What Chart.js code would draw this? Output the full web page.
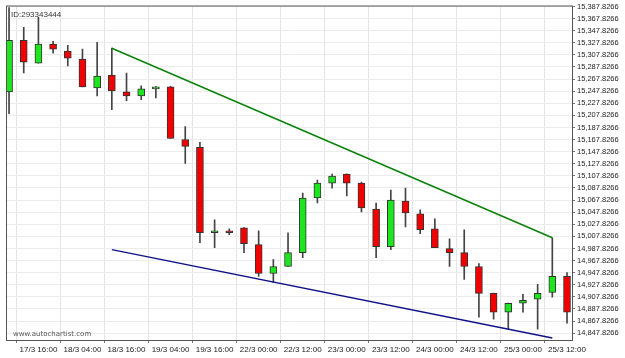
<!DOCTYPE html>
<html>
<head>
<meta charset="utf-8">
<script src="https://cdn.jsdelivr.net/npm/chart.js@4"></script>
<style>
  html, body { margin: 0; padding: 0; background: #fff; }
  #wrap { width: 625px; height: 358px; }
</style>
</head>
<body>
<div id="wrap"><canvas id="candleChart" width="625" height="358"></canvas></div>
<script>
// 4h candles, 17/3 08:00 .. 25/3 12:00
var times = ['17/3 08:00', '17/3 12:00', '17/3 16:00', '17/3 20:00', '18/3 00:00', '18/3 04:00', '18/3 08:00', '18/3 12:00',
    '18/3 16:00', '18/3 20:00', '19/3 00:00', '19/3 04:00', '19/3 08:00', '19/3 12:00', '19/3 16:00', '19/3 20:00',
    '21/3 20:00', '22/3 00:00', '22/3 04:00', '22/3 08:00', '22/3 12:00', '22/3 16:00', '22/3 20:00', '23/3 00:00',
    '23/3 04:00', '23/3 08:00', '23/3 12:00', '23/3 16:00', '23/3 20:00', '24/3 00:00', '24/3 04:00', '24/3 08:00',
    '24/3 12:00', '24/3 16:00', '24/3 20:00', '25/3 00:00', '25/3 04:00', '25/3 08:00', '25/3 12:00'];

var opens = [15246.7, 15332.0, 15294.3, 15325.5, 15314.0, 15300.9, 15253.3, 15274.6, 15246.7, 15240.2, 15251.7, 15254.9, 15168.0,
    15154.9, 15013.8, 15017.0, 15022.0, 14994.1, 14946.5, 14958.0, 14980.9, 15071.2, 15095.8, 15110.6, 15095.8, 15053.1,
    14990.8, 15066.3, 15044.9, 15020.3, 14987.5, 14980.9, 14958.0, 14913.7, 14882.5, 14897.3, 14903.8, 14915.3, 14941.6];
var highs = [15386.2, 15353.4, 15369.8, 15330.4, 15323.8, 15317.3, 15328.8, 15318.9, 15277.9, 15256.6, 15255.4, 15256.0, 15189.3,
    15163.1, 15035.1, 15020.3, 15022.5, 15017.0, 14969.5, 15013.8, 15079.4, 15100.7, 15110.6, 15111.0, 15097.4, 15063.0,
    15084.3, 15087.6, 15051.5, 15036.7, 15003.9, 15018.7, 14962.9, 14914.0, 14897.5, 14912.0, 14928.4, 15005.5, 14948.1];
var lows = [15210.6, 15277.9, 15294.3, 15310.7, 15289.4, 15254.9, 15240.2, 15217.2, 15232.0, 15233.6, 15236.9, 15169.6, 15128.6,
    14997.3, 14989.1, 15010.5, 14980.9, 14941.6, 14931.7, 14958.0, 14972.7, 15063.0, 15087.6, 15074.5, 15048.2, 14972.7,
    14985.9, 15023.6, 15012.1, 14989.1, 14958.0, 14936.6, 14874.3, 14871.0, 14854.6, 14882.5, 14854.6, 14907.1, 14864.4];
var closes = [15332.0, 15295.9, 15325.5, 15317.3, 15302.5, 15254.9, 15273.0, 15248.4, 15240.2, 15251.7, 15254.9, 15169.6, 15156.5,
    15013.8, 15017.0, 15013.8, 14995.7, 14946.5, 14958.0, 14980.9, 15071.2, 15095.8, 15107.3, 15095.8, 15054.8, 14990.8,
    15067.9, 15046.6, 15018.7, 14989.1, 14980.9, 14958.0, 14913.7, 14882.5, 14897.3, 14902.2, 14913.7, 14941.6, 14882.5];

// trend lines (candle index -> price)
var lineIdx = [7, 37];
var resistance = [15318.9, 15005.5];
var support = [14985.9, 14839.8];

var tickIdx = [2, 5, 8, 11, 14, 17, 20, 23, 26, 29, 32, 35, 38];
var yTop = 15387.8266, yStep = 20, yCount = 28;

var UP = '#1ee61e', DOWN = '#f20000';

function bodyColor(ctx) {
    var i = ctx.dataIndex;
    return closes[i] >= opens[i] ? UP : DOWN;
}

var frame = {
    id: 'frame',
    beforeDraw: function (chart) {
        var c = chart.ctx;
        c.save();
        c.fillStyle = '#fff';
        c.fillRect(0, 0, chart.width, chart.height);
        c.restore();
    },
    afterDraw: function (chart) {
        var c = chart.ctx, a = chart.chartArea;
        c.save();
        c.strokeStyle = '#555';
        c.lineWidth = 1;
        c.strokeRect(a.left - 0.5, a.top - 0.5, a.right - a.left + 1, a.bottom - a.top + 1);
        c.fillStyle = '#333';
        c.font = '8px "Liberation Sans"';
        c.textBaseline = 'top';
        c.fillText('ID:293343444', a.left + 4, a.top + 4);
        c.fillStyle = '#555';
        c.font = '7px "DejaVu Sans"';
        c.textBaseline = 'bottom';
        c.fillText('www.autochartist.com', a.left + 6, a.bottom - 2);
        c.restore();
    }
};

var ctx = document.getElementById('candleChart').getContext('2d');
var chart = new Chart(ctx, {
    type: 'bar',
    data: {
        datasets: [{
            label: 'wick',
            data: times.map(function (t, i) { return { x: i, y: [lows[i], highs[i]] }; }),
            backgroundColor: '#444',
            barThickness: 1,
            grouped: false,
            order: 2
        }, {
            label: 'body',
            data: times.map(function (t, i) { return { x: i, y: [opens[i], closes[i]] }; }),
            backgroundColor: bodyColor,
            borderColor: '#333',
            borderWidth: 1,
            borderSkipped: false,
            barThickness: 7,
            grouped: false,
            order: 1
        }, {
            type: 'line',
            label: 'resistance',
            data: lineIdx.map(function (x, i) { return { x: x, y: resistance[i] }; }),
            borderColor: '#0a820a',
            borderWidth: 1.5,
            pointRadius: 0,
            order: 0
        }, {
            type: 'line',
            label: 'support',
            data: lineIdx.map(function (x, i) { return { x: x, y: support[i] }; }),
            borderColor: '#10108a',
            borderWidth: 1.5,
            pointRadius: 0,
            order: 0
        }]
    },
    plugins: [frame],
    options: {
        responsive: false,
        animation: false,
        events: [],
        layout: { padding: { left: 7, top: 4, right: 0, bottom: 0 } },
        plugins: { legend: { display: false }, tooltip: { enabled: false } },
        scales: {
            x: {
                type: 'linear',
                min: -0.14,
                max: 38.34,
                offset: false,
                afterBuildTicks: function (axis) {
                    axis.ticks = tickIdx.map(function (v) { return { value: v }; });
                },
                afterFit: function (axis) { axis.height = 18; },
                ticks: {
                    autoSkip: false,
                    maxRotation: 0,
                    padding: 2,
                    color: '#222',
                    font: { family: 'Liberation Sans', size: 8 },
                    callback: function (v) { return times[v]; }
                },
                grid: { color: '#e4e4e4', drawTicks: true, tickLength: 3, tickColor: '#777' },
                border: { display: false }
            },
            y: {
                position: 'right',
                min: 14836.5,
                max: 15387.83,
                afterBuildTicks: function (axis) {
                    var t = [];
                    for (var k = 0; k < yCount; k++) t.push({ value: yTop - k * yStep });
                    axis.ticks = t;
                },
                afterFit: function (axis) { axis.width = 53; },
                ticks: {
                    autoSkip: false,
                    padding: 2,
                    color: '#222',
                    font: { family: 'Liberation Sans', size: 7.5 },
                    callback: function (v) {
                        return v.toLocaleString('en-US', { minimumFractionDigits: 4, maximumFractionDigits: 4 });
                    }
                },
                grid: { color: '#ececec', drawTicks: true, tickLength: 3, tickColor: '#777' },
                border: { display: false }
            }
        }
    }
});
</script>
</body>
</html>
